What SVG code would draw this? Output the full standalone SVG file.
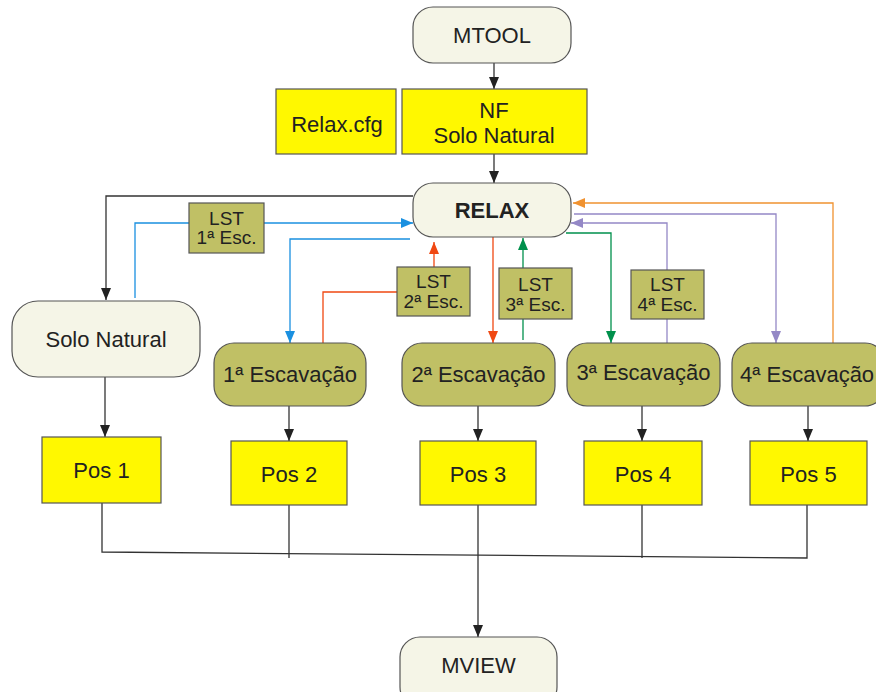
<svg xmlns="http://www.w3.org/2000/svg" width="876" height="692" viewBox="0 0 876 692">
<style>
text{font-family:"Liberation Sans",Arial,sans-serif;font-size:22px;fill:#222;text-anchor:middle}
.lst{font-size:19px}
.cream{fill:#f5f5e7;stroke:#555;stroke-width:1.2}
.olive{fill:#c0c065;stroke:#555;stroke-width:1.2}
.yel{fill:#fff800;stroke:#555;stroke-width:1.2}
.c{fill:none;stroke-width:1.3}
.k{stroke:#333}
.b{stroke:#1a90e0}
.r{stroke:#f04812}
.g{stroke:#00904c}
.p{stroke:#9488c6}
.o{stroke:#f09230}
</style>
<defs>
<marker id="ak" markerUnits="userSpaceOnUse" markerWidth="12" markerHeight="10" refX="12" refY="5" orient="auto"><path d="M0,0L12,5L0,10z" fill="#222"/></marker>
<marker id="ab" markerUnits="userSpaceOnUse" markerWidth="12" markerHeight="10" refX="12" refY="5" orient="auto"><path d="M0,0L12,5L0,10z" fill="#1a90e0"/></marker>
<marker id="ar" markerUnits="userSpaceOnUse" markerWidth="12" markerHeight="10" refX="12" refY="5" orient="auto"><path d="M0,0L12,5L0,10z" fill="#f04812"/></marker>
<marker id="ag" markerUnits="userSpaceOnUse" markerWidth="12" markerHeight="10" refX="12" refY="5" orient="auto"><path d="M0,0L12,5L0,10z" fill="#00904c"/></marker>
<marker id="ap" markerUnits="userSpaceOnUse" markerWidth="12" markerHeight="10" refX="12" refY="5" orient="auto"><path d="M0,0L12,5L0,10z" fill="#9488c6"/></marker>
<marker id="ao" markerUnits="userSpaceOnUse" markerWidth="12" markerHeight="10" refX="12" refY="5" orient="auto"><path d="M0,0L12,5L0,10z" fill="#f09230"/></marker>
</defs>
<g id="connectors">
<path class="c k" d="M494,63V89" marker-end="url(#ak)"/>
<path class="c k" d="M494,154V183" marker-end="url(#ak)"/>
<path class="c k" d="M413,196H106V300" marker-end="url(#ak)"/>
<path class="c b" d="M135,298V223H189"/>
<path class="c b" d="M264,223H413" marker-end="url(#ab)"/>
<path class="c b" d="M410,239H290V343" marker-end="url(#ab)"/>
<path class="c r" d="M323,343V292H397"/>
<path class="c r" d="M434,267V242" marker-end="url(#ar)"/>
<path class="c r" d="M493,237V343" marker-end="url(#ar)"/>
<path class="c g" d="M523,340V319"/>
<path class="c g" d="M523,268V238" marker-end="url(#ag)"/>
<path class="c g" d="M566,233H611V343" marker-end="url(#ag)"/>
<path class="c p" d="M667,343V319"/>
<path class="c p" d="M667,270V223H571" marker-end="url(#ap)"/>
<path class="c p" d="M574,214H776V343" marker-end="url(#ap)"/>
<path class="c o" d="M833,343V203H573" marker-end="url(#ao)"/>
<path class="c k" d="M105,377V437" marker-end="url(#ak)"/>
<path class="c k" d="M289,406V441" marker-end="url(#ak)"/>
<path class="c k" d="M478,406V441" marker-end="url(#ak)"/>
<path class="c k" d="M642,406V441" marker-end="url(#ak)"/>
<path class="c k" d="M808,406V441" marker-end="url(#ak)"/>
<path class="c k" d="M102,503V552L807,558V505"/>
<path class="c k" d="M289,505V558"/>
<path class="c k" d="M642,505V558"/>
<path class="c k" d="M478,505V637" marker-end="url(#ak)"/>
</g>
<g id="mtool"><rect class="cream" x="413" y="7" width="158" height="56" rx="20"/><text x="492" y="43">MTOOL</text></g>
<g id="relaxcfg"><rect class="yel" x="276" y="89" width="120" height="65"/><text x="337" y="132">Relax.cfg</text></g>
<g id="nf"><rect class="yel" x="402" y="89" width="185" height="65"/><text x="494" y="118">NF</text><text x="494" y="143">Solo Natural</text></g>
<g id="relax"><rect class="cream" x="413" y="183" width="158" height="54" rx="20"/><text x="492" y="218" style="font-weight:bold">RELAX</text></g>
<g id="lst1"><rect class="olive" x="189" y="203" width="75" height="50"/><text class="lst" x="226.5" y="225">LST</text><text class="lst" x="226.5" y="244">1ª Esc.</text></g>
<g id="lst2"><rect class="olive" x="397" y="267" width="73" height="49"/><text class="lst" x="433.5" y="288">LST</text><text class="lst" x="433.5" y="308">2ª Esc.</text></g>
<g id="lst3"><rect class="olive" x="499" y="268" width="73" height="51"/><text class="lst" x="535.5" y="291">LST</text><text class="lst" x="535.5" y="311">3ª Esc.</text></g>
<g id="lst4"><rect class="olive" x="631" y="270" width="73" height="49"/><text class="lst" x="667.5" y="291">LST</text><text class="lst" x="667.5" y="311">4ª Esc.</text></g>
<g id="solo"><rect class="cream" x="12" y="301" width="188" height="76" rx="26"/><text x="106" y="347">Solo Natural</text></g>
<g id="esc1"><rect class="olive" x="214" y="343" width="152" height="63" rx="20"/><text x="290" y="382">1ª Escavação</text></g>
<g id="esc2"><rect class="olive" x="402" y="343" width="153" height="63" rx="20"/><text x="478.5" y="382">2ª Escavação</text></g>
<g id="esc3"><rect class="olive" x="567" y="343" width="153" height="63" rx="20"/><text x="643.5" y="380">3ª Escavação</text></g>
<g id="esc4"><rect class="olive" x="732" y="343" width="153" height="63" rx="20"/><text x="740" y="382" style="text-anchor:start">4ª Escavação</text></g>
<g id="pos1"><rect class="yel" x="42" y="437" width="119" height="66"/><text x="101.5" y="478">Pos 1</text></g>
<g id="pos2"><rect class="yel" x="231" y="441" width="116" height="64"/><text x="289" y="482">Pos 2</text></g>
<g id="pos3"><rect class="yel" x="420" y="441" width="116" height="64"/><text x="478" y="482">Pos 3</text></g>
<g id="pos4"><rect class="yel" x="584" y="441" width="118" height="64"/><text x="643" y="482">Pos 4</text></g>
<g id="pos5"><rect class="yel" x="750" y="441" width="117" height="64"/><text x="808.5" y="482">Pos 5</text></g>
<g id="mview"><rect class="cream" x="400" y="637" width="157" height="70" rx="20"/><text x="478.5" y="673">MVIEW</text></g>
</svg>
